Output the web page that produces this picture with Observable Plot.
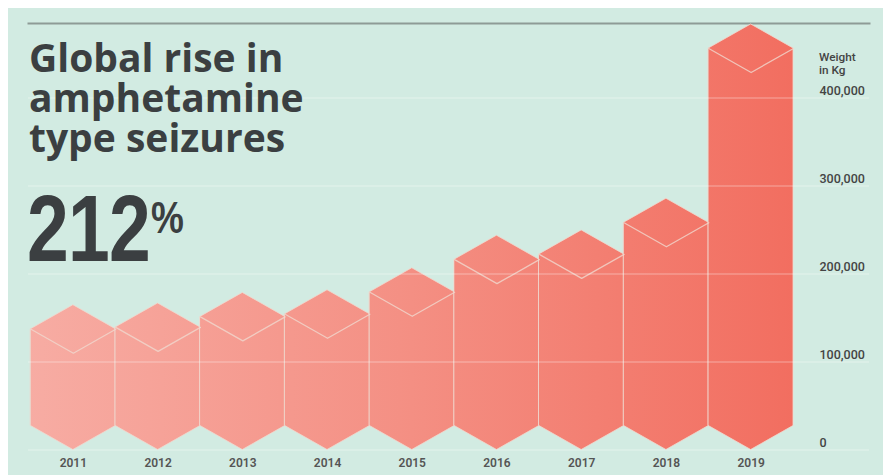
<!DOCTYPE html>
<html>
<head>
<meta charset="utf-8">
<script src="https://cdn.jsdelivr.net/npm/d3@7"></script>
<script src="https://cdn.jsdelivr.net/npm/@observablehq/plot@0.6"></script>
<style>
  html, body { margin: 0; padding: 0; background: #ffffff; }
  #card { position: absolute; left: 8px; top: 8px; width: 875px; height: 467px; background: #d2ebe2; overflow: hidden; }
  #chart { position: absolute; left: 0; top: 0; }
  .title { position: absolute; left: 21px; height: 40px; font-family: "Open Sans", Roboto, sans-serif; font-weight: 700; font-size: 39px; line-height: 40px; color: #3b3f41; white-space: nowrap; }
  .big { position: absolute; left: 19px; top: 173px; font-family: "Liberation Sans", Arial, sans-serif; font-weight: 700; font-size: 95px; line-height: 95px; color: #3b3f41; transform: scaleX(0.79); transform-origin: 0 0; letter-spacing: -1px; }
  .pct { position: absolute; left: 143px; top: 188px; font-family: "Liberation Sans", Arial, sans-serif; font-weight: 700; font-size: 44px; line-height: 44px; color: #3b3f41; transform: scaleX(0.84); transform-origin: 0 0; }
  .unit { position: absolute; left: 811px; height: 13.8px; font-family: Roboto, "Noto Sans", sans-serif; font-weight: 500; font-size: 11.8px; line-height: 13.8px; color: #444; white-space: nowrap; }
</style>
</head>
<body>
<div id="card">
  <div id="chart"></div>
  <div class="title" style="top:29px">Global rise in</div>
  <div class="title" style="top:69px">amphetamine</div>
  <div class="title" style="top:109px">type seizures</div>
  <div class="big">212</div>
  <div class="pct">%</div>
  <div class="unit" style="top:42.5px">Weight</div>
  <div class="unit" style="top:56.3px">in Kg</div>
</div>
<script>
// ---- data ----
const years = ["2011", "2012", "2013", "2014", "2015", "2016", "2017", "2018", "2019"];
const seizures = [110000, 112000, 124000, 127000, 152000, 189000, 195000, 231000, 429000];
const yTicks = [0, 100000, 200000, 300000, 400000];

// ---- geometry / style ----
const W = 875, H = 467;
const yRange = [441.5, 89.5];
const yDomain = [0, 400000];
const pxPerUnit = (yRange[0] - yRange[1]) / (yDomain[1] - yDomain[0]);
const faceDepth = 24 / pxPerUnit; // vertical offset of hexagon faces, in data units

const bars = years.map((year, i) => ({year, i, v: seizures[i]}));
const areaPts = bars.flatMap(d => [
  {year: d.year, x: d.i - 0.5, y1: faceDepth, y2: d.v + faceDepth},
  {year: d.year, x: d.i,       y1: 0,         y2: d.v + 2 * faceDepth},
  {year: d.year, x: d.i + 0.5, y1: faceDepth, y2: d.v + faceDepth}
]);
const vPts = bars.flatMap(d => [
  {year: d.year, x: d.i - 0.5, y: d.v + faceDepth},
  {year: d.year, x: d.i,       y: d.v},
  {year: d.year, x: d.i + 0.5, y: d.v + faceDepth}
]);

const edge = "rgba(240,216,206,0.8)";

const chart = Plot.plot({
  width: W,
  height: H,
  marginTop: 15,
  marginLeft: 20,
  marginRight: 14,
  marginBottom: H - yRange[0],
  style: {fontFamily: "Roboto, 'Noto Sans', sans-serif", fontSize: "12px", fontWeight: 500, color: "#444", background: "transparent"},
  x: {type: "linear", domain: [-0.5, years.length - 0.5], range: [22.5, 785], label: null},
  y: {domain: yDomain, range: yRange, label: null},
  marks: [
    Plot.frame({anchor: "top", stroke: "#8e9b96", strokeWidth: 2}),
    Plot.areaY(areaPts, {x: "x", y1: "y1", y2: "y2", z: "year", fill: "url(#barGrad)", stroke: edge, strokeWidth: 1}),
    Plot.line(vPts, {x: "x", y: "y", z: "year", stroke: edge, strokeWidth: 1.3}),
    Plot.ruleY(yTicks, {stroke: "#ffffff", strokeOpacity: 0.4, strokeWidth: 1}),
    Plot.axisY(yTicks, {anchor: "right", label: null, tickSize: 0, tickPadding: 0, dx: -50, dy: -3, lineAnchor: "bottom", textAnchor: "start", tickFormat: d3.format(","), fill: "#444", fontSize: 12.5}),
    Plot.axisX(d3.range(years.length), {anchor: "bottom", label: null, tickSize: 0, tickPadding: 8, tickFormat: i => years[i], fill: "#555", fontWeight: 600})
  ]
});

// gradient across the bars
const ns = "http://www.w3.org/2000/svg";
const defs = document.createElementNS(ns, "defs");
const grad = document.createElementNS(ns, "linearGradient");
grad.setAttribute("id", "barGrad");
grad.setAttribute("gradientUnits", "userSpaceOnUse");
grad.setAttribute("x1", "22"); grad.setAttribute("y1", "0");
grad.setAttribute("x2", "785"); grad.setAttribute("y2", "0");
[["0", "#f7aca3"], ["0.5", "#f48f83"], ["1", "#f26e60"]].forEach(([o, c]) => {
  const s = document.createElementNS(ns, "stop");
  s.setAttribute("offset", o); s.setAttribute("stop-color", c);
  grad.appendChild(s);
});
defs.appendChild(grad);
chart.insertBefore(defs, chart.firstChild);

document.getElementById("chart").appendChild(chart);
</script>
</body>
</html>
